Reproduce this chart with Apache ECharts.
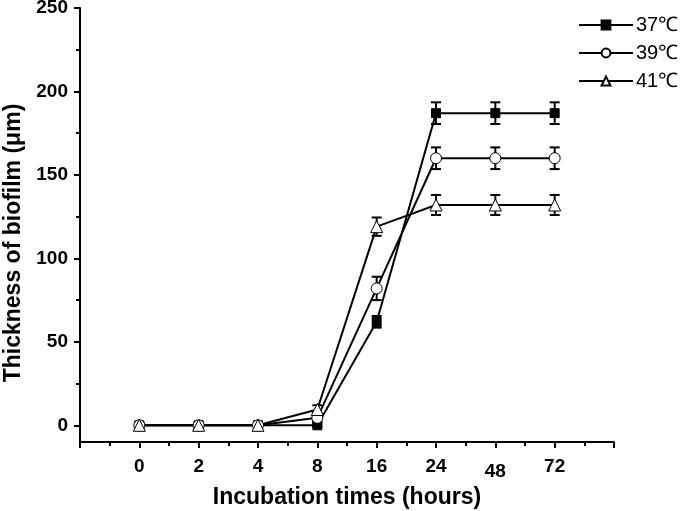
<!DOCTYPE html>
<html><head><meta charset="utf-8">
<script src="https://cdn.jsdelivr.net/npm/echarts@6/dist/echarts.min.js"></script>
<style>html,body{margin:0;padding:0;background:#fff}#c{width:680px;height:511px}</style>
</head><body><div id="c"></div>
<script>
var categories = ['0','2','4','8','16','24','48','72'];
var names = ['37\u2103','39\u2103','41\u2103'];
var s37 = [0,0,0,0,62,187,187,187];
var e37 = [0,0,0,1,3.5,6.5,6.5,6.5];
var s39 = [0,0,0,4.5,82,160,160,160];
var e39 = [0,0,0,2.5,7,6.5,6.5,6.5];
var s41 = [0,0,0,9.5,119,132,132,132];
var e41 = [0,0,0,2.5,5.5,6,6,6];
var yMajor = [0,50,100,150,200,250];
var yMinor = [25,75,125,175,225];

function pts(v){ return v.map(function(y,i){ return [i,y]; }); }
function errData(v,e){ return v.map(function(y,i){ return [i,y-e[i],y+e[i]]; }); }
function errSeries(v,e){
  return {
    type:'custom', xAxisIndex:0, yAxisIndex:0, z:1, silent:true,
    data: errData(v,e),
    renderItem: function(params, api){
      var x = api.value(0), lo = api.value(1), hi = api.value(2);
      if (hi - lo < 0.01) return null;
      var p1 = api.coord([x,lo]), p2 = api.coord([x,hi]);
      var w = 5;
      var st = {stroke:'#000', lineWidth:2};
      return {type:'group', children:[
        {type:'line', shape:{x1:p1[0],y1:p1[1],x2:p2[0],y2:p2[1]}, style:st},
        {type:'line', shape:{x1:p1[0]-w,y1:p1[1],x2:p1[0]+w,y2:p1[1]}, style:st},
        {type:'line', shape:{x1:p2[0]-w,y1:p2[1],x2:p2[0]+w,y2:p2[1]}, style:st}
      ]};
    }
  };
}
function lineSeries(name, v, symbol, size, fill){
  return {
    name:name, type:'line', z:3, data: pts(v),
    symbol:symbol, symbolSize:size, showAllSymbol:true,
    lineStyle:{color:'#000', width:2},
    itemStyle:{color:fill, borderColor:'#000', borderWidth:1},
    emphasis:{disabled:true}
  };
}
var chart = echarts.init(document.getElementById('c'), null, {renderer:'canvas'});
var font = 'Arial, "Liberation Sans", sans-serif';
chart.setOption({
  animation:false,
  grid:{left:80, right:66, top:8, bottom:69, containLabel:false, outerBoundsMode:'none'},
  legend:{
    orient:'vertical', left:573, top:10, itemWidth:54, itemHeight:11, itemGap:8,
    textStyle:{fontFamily:font, fontSize:20, color:'#000', padding:[0,0,0,-2]},
    data:names
  },
  xAxis:{
    type:'value', min:-1, max:8, interval:1,
    axisLine:{onZero:false, lineStyle:{color:'#000', width:2}},
    axisTick:{inside:false, length:6, lineStyle:{color:'#000', width:2}},
    minorTick:{show:true, splitNumber:2, length:4, lineStyle:{color:'#000', width:2}},
    splitLine:{show:false}, minorSplitLine:{show:false},
    axisLabel:{
      color:'#000', fontFamily:font, fontWeight:'bold', fontSize:19, margin:15,
      formatter:function(v){
        var i = Math.round(v);
        if (i < 0 || i >= categories.length) return '';
        if (categories[i] === '48') return '{low|48}';
        return categories[i];
      },
      rich:{low:{fontFamily:font, fontWeight:'bold', fontSize:19, color:'#000', padding:[5,0,0,0]}}
    },
    name:'Incubation times (hours)', nameLocation:'middle', nameGap:40,
    nameTextStyle:{fontFamily:font, fontWeight:'bold', fontSize:23, color:'#000'}
  },
  yAxis:[{
    type:'value', min:-10, max:250,
    axisLine:{show:true, onZero:false, lineStyle:{color:'#000', width:2}},
    axisTick:{show:true, length:6, customValues:yMajor, lineStyle:{color:'#000', width:2}},
    axisLabel:{customValues:yMajor, color:'#000', fontFamily:font, fontWeight:'bold', fontSize:19, margin:12},
    splitLine:{show:false},
    name:'Thickness of biofilm (\u03bcm)', nameLocation:'middle', nameGap:50, nameRotate:90,
    nameTextStyle:{fontFamily:font, fontWeight:'bold', fontSize:23, color:'#000', padding:[0,0,0,-36]}
  },{
    type:'value', min:-10, max:250, position:'left',
    axisLine:{show:false, onZero:false},
    axisTick:{show:true, length:4, customValues:yMinor, lineStyle:{color:'#000', width:2}},
    axisLabel:{show:false}, splitLine:{show:false}
  }],
  series:[
    errSeries(s37,e37), errSeries(s39,e39), errSeries(s41,e41),
    lineSeries(names[0], s37, 'rect', 9, '#000'),
    lineSeries(names[1], s39, 'circle', 11, '#fff'),
    lineSeries(names[2], s41, 'triangle', 12, '#fff')
  ]
});
</script></body></html>
